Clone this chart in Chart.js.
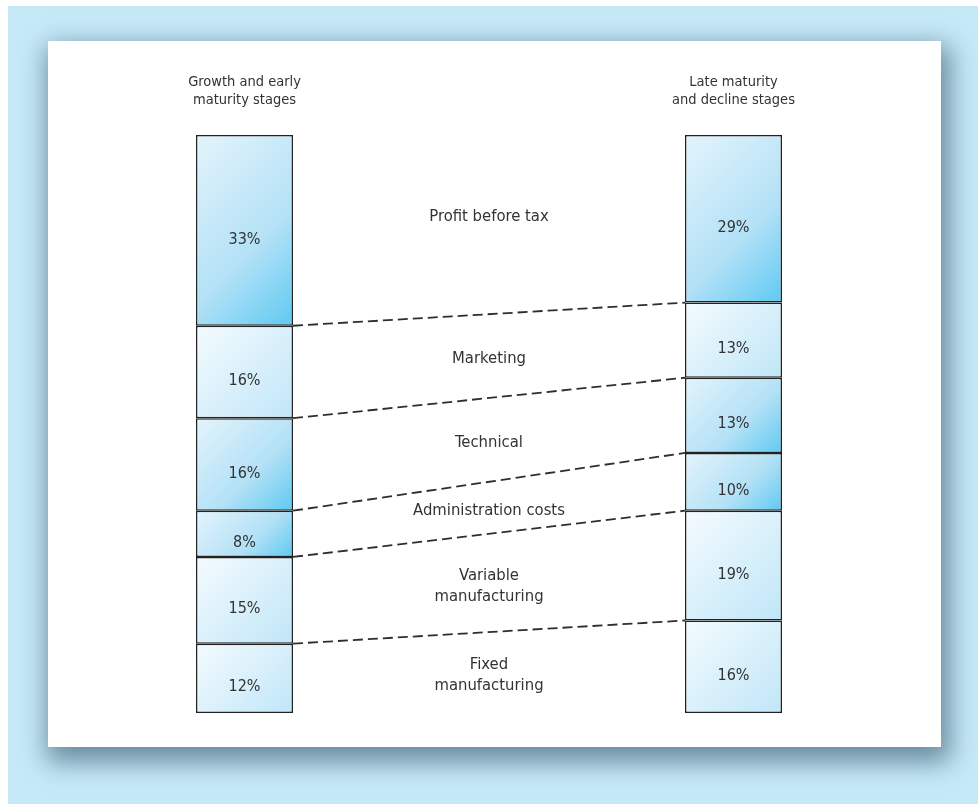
<!DOCTYPE html>
<html>
<head>
<meta charset="utf-8">
<script src="https://cdn.jsdelivr.net/npm/chart.js@4.4.1/dist/chart.umd.min.js"></script>
<style>
  html, body { margin: 0; padding: 0; background: #fff; }
  body { width: 978px; height: 804px; position: relative; overflow: hidden; }
  .frame { position: absolute; left: 8px; top: 6px; right: 0; bottom: 0; background: #c6e9f8; }
  .panel { position: absolute; left: 48px; top: 41px; width: 893px; height: 706px; background: #fff;
           box-shadow: 4px 10px 24px 5px rgba(55, 90, 110, 0.65); }
  #chart { position: absolute; left: 0; top: 0; }
</style>
</head>
<body>
<div class="frame"></div>
<div class="panel"></div>
<canvas id="chart" width="978" height="804"></canvas>
<script>
// stages (x categories)
const stages = ['Growth and early maturity stages', 'Late maturity and decline stages'];
const stageLines = [['Growth and early', 'maturity stages'], ['Late maturity', 'and decline stages']];

// cost items, bottom to top
const costItems = ['Fixed manufacturing', 'Variable manufacturing', 'Administration costs', 'Technical', 'Marketing', 'Profit before tax'];
const itemLines = [['Fixed', 'manufacturing'], ['Variable', 'manufacturing'], ['Administration costs'], ['Technical'], ['Marketing'], ['Profit before tax']];
const growthShares = [12, 15, 8, 16, 16, 33];
const lateShares = [16, 19, 10, 13, 13, 29];
const strongShade = [false, false, true, true, false, true];

const FONT = "'Liberation Sans Narrow', 'DejaVu Sans Condensed', sans-serif";
const TXT = '#333333';
const BAR_W = 97;

const series = [growthShares, lateShares];

function below(arr, i) {
    let s = 0;
    for (let k = 0; k < i; k++) s += arr[k];
    return s;
}

function segFill(ctx) {
    const chart = ctx.chart;
    const xs = chart.scales.x, ys = chart.scales.y;
    if (!chart.chartArea || !xs || !ys || ctx.type !== 'data') return '#cdebf9';
    const arr = series[ctx.dataIndex];
    const d = ctx.datasetIndex;
    const left = xs.getPixelForValue(ctx.dataIndex) - BAR_W / 2;
    const top = ys.getPixelForValue(below(arr, d + 1));
    const bot = ys.getPixelForValue(below(arr, d));
    // 45 degree gradient, light top-left to deep bottom-right
    const half = (BAR_W + (bot - top)) / 2;
    const g = chart.ctx.createLinearGradient(left, top, left + half, top + half);
    if (strongShade[d]) {
        g.addColorStop(0, '#e4f4fc');
        g.addColorStop(0.6, '#b3e1f6');
        g.addColorStop(1, '#5fc9f2');
    } else {
        g.addColorStop(0, '#f4fbfe');
        g.addColorStop(1, '#c0e6f8');
    }
    return g;
}

const labelPlugin = {
    id: 'labels',
    afterDatasetsDraw(chart) {
        const c = chart.ctx;
        const xs = chart.scales.x, ys = chart.scales.y;
        const x0 = xs.getPixelForValue(0), x1 = xs.getPixelForValue(1);
        c.save();

        // dashed connectors between boundaries
        c.strokeStyle = '#2e2e2e';
        c.lineWidth = 1.8;
        c.setLineDash([10, 5]);
        const mids = [ys.getPixelForValue(0)];
        for (let i = 1; i < costItems.length; i++) {
            const yl = ys.getPixelForValue(below(growthShares, i));
            const yr = ys.getPixelForValue(below(lateShares, i));
            c.beginPath();
            c.moveTo(x0 + BAR_W / 2, yl);
            c.lineTo(x1 - BAR_W / 2, yr);
            c.stroke();
            mids.push((yl + yr) / 2);
        }
        mids.push(ys.getPixelForValue(100));
        c.setLineDash([]);

        // percentages inside bars
        c.fillStyle = TXT;
        c.textAlign = 'center';
        c.textBaseline = 'middle';
        c.font = '16px ' + FONT;
        series.forEach((arr, si) => {
            const cx = xs.getPixelForValue(si);
            arr.forEach((v, i) => {
                const yc = (ys.getPixelForValue(below(arr, i)) + ys.getPixelForValue(below(arr, i + 1))) / 2;
                c.fillText(v + '%', cx, yc + 9);
            });
        });

        // item names in the middle
        const mx = (x0 + x1) / 2;
        c.font = '16.5px ' + FONT;
        itemLines.forEach((lines, i) => {
            let yc = (mids[i] + mids[i + 1]) / 2;
            if (i === itemLines.length - 1) yc -= 11;
            const lh = 21;
            lines.forEach((t, k) => {
                c.fillText(t, mx, yc + (k - (lines.length - 1) / 2) * lh + 3);
            });
        });

        // stage titles
        c.font = '14.5px ' + FONT;
        stageLines.forEach((lines, si) => {
            const cx = xs.getPixelForValue(si);
            lines.forEach((t, k) => c.fillText(t, cx, 82 + k * 18));
        });
        c.restore();
    }
};

new Chart(document.getElementById('chart'), {
    type: 'bar',
    data: {
        labels: stages,
        datasets: costItems.map((name, i) => ({
            label: name,
            data: [growthShares[i], lateShares[i]],
            backgroundColor: segFill,
            borderColor: '#222',
            borderWidth: 1.5,
            borderSkipped: false,
            barThickness: BAR_W,
            inflateAmount: 0,
        }))
    },
    options: {
        responsive: false,
        animation: false,
        layout: { padding: { top: 135, bottom: 91, left: 0, right: 0 } },
        plugins: {
            legend: { display: false },
            tooltip: { enabled: false }
        },
        scales: {
            x: { stacked: true, display: false },
            y: { stacked: true, display: false, min: 0, max: 100 }
        }
    },
    plugins: [labelPlugin]
});
</script>
</body>
</html>
